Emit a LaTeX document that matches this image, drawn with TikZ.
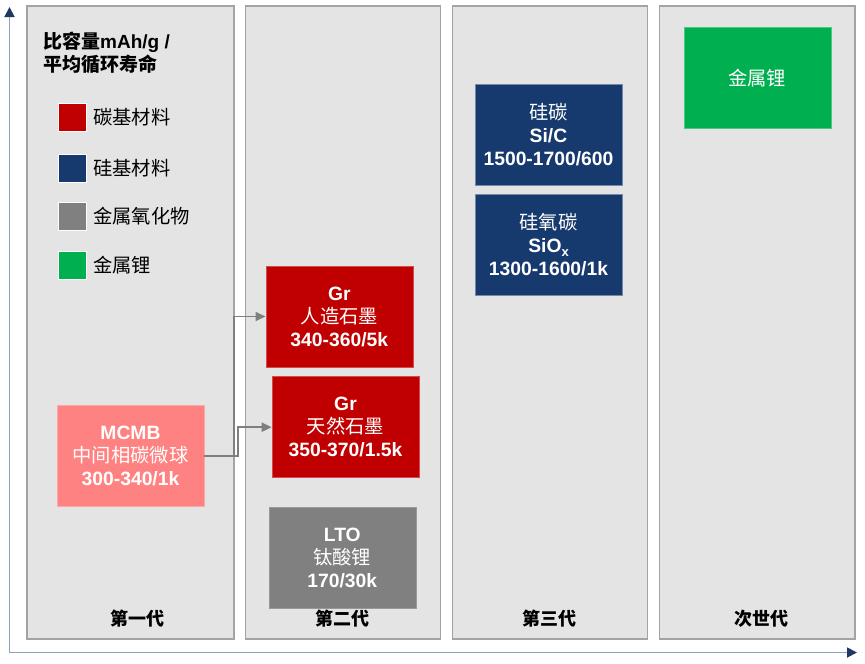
\documentclass[tikz,border=0pt]{standalone}
\usepackage{fontspec}
\setmainfont{Liberation Sans}
\newfontfamily\cjk{Noto Sans CJK SC}
\usetikzlibrary{arrows.meta}
\definecolor{panelfill}{HTML}{E4E4E4}
\definecolor{panelline}{HTML}{A3A3A3}
\definecolor{cred}{HTML}{C00000}
\definecolor{cpink}{HTML}{FF8282}
\definecolor{cblue}{HTML}{173A6E}
\definecolor{cgray}{HTML}{808080}
\definecolor{cgreen}{HTML}{00B050}
\definecolor{axisline}{HTML}{8DA2C0}
\definecolor{axistip}{HTML}{1F3864}
\definecolor{conn}{HTML}{7F7F7F}
\newcommand\myfs{\fontsize{19.3}{23}\selectfont}
\begin{document}
\begin{tikzpicture}[x=1pt,y=-1pt,
  panel/.style={draw=panelline, fill=panelfill, line width=1.5pt, inner sep=0pt},
  matbox/.style={minimum width=147pt, minimum height=101pt, inner sep=0pt, align=center, text=white, font=\myfs, line width=0.6pt},
  legsq/.style={minimum width=28pt, minimum height=28pt, inner sep=0pt, draw=white, line width=0.5pt},
  legtxt/.style={anchor=west, inner sep=0pt, font=\myfs\cjk},
  gen/.style={inner sep=0pt, font=\fontsize{18}{22}\selectfont\cjk\bfseries},
  axis/.style={draw=axisline, line width=1.8pt, -{Triangle[width=10pt,length=10pt,color=axistip]}},
  connector/.style={draw=conn, line width=1.8pt, -{Triangle[width=9pt,length=10pt]}}
]
\useasboundingbox[fill=white] (0,0) rectangle (865,664);

% axes
\coordinate (o) at (9.5,652.5);
\coordinate (ytop) at (9.5,7);
\coordinate (xend) at (857,652.5);
\draw[axis] (o) -- (ytop);
\draw[axis] (o) -- (xend);

% panels
\node[panel, minimum width=207pt, minimum height=633pt] (p1) at (130.5,322.5) {};
\node[panel, minimum width=195pt, minimum height=633pt] (p2) at (343,322.5) {};
\node[panel, minimum width=195pt, minimum height=633pt] (p3) at (550,322.5) {};
\node[panel, minimum width=195.5pt, minimum height=633pt] (p4) at (757.3,322.5) {};

% generation labels
\node[gen] (g1) at (137,619) {第一代};
\node[gen] (g2) at (342.5,619) {第二代};
\node[gen] (g3) at (549.7,619) {第三代};
\node[gen] (g4) at (761,619) {次世代};

% title
\node[anchor=north west, inner sep=0pt, align=left, font=\fontsize{19}{23}\selectfont\bfseries] (title) at (43,32)
  {{\cjk 比容量}mAh/g /\\{\cjk 平均循环寿命}};

% legend
\node[legsq, fill=cred] (l1) at (72.5,117) {};
\node[legsq, fill=cblue] (l2) at (72.5,168) {};
\node[legsq, fill=cgray] (l3) at (72.5,216) {};
\node[legsq, fill=cgreen] (l4) at (72.5,265.5) {};
\node[legtxt] (lt1) at (93,117) {碳基材料};
\node[legtxt] (lt2) at (93,168) {硅基材料};
\node[legtxt] (lt3) at (93,216) {金属氧化物};
\node[legtxt] (lt4) at (93,265.5) {金属锂};

% material boxes
\node[matbox, fill=cpink, draw=cpink!70!white] (mcmb) at (130.5,456)
  {\bfseries MCMB\\{\cjk 中间相碳微球}\\\bfseries 300-340/1k};
\node[matbox, fill=cred, draw=cred!70!white] (gr1) at (339.3,316.5)
  {\bfseries Gr\\{\cjk 人造石墨}\\\bfseries 340-360/5k};
\node[matbox, fill=cred, draw=cred!70!white] (gr2) at (345.5,427.2)
  {\bfseries Gr\\{\cjk 天然石墨}\\\bfseries 350-370/1.5k};
\node[matbox, fill=cgray, draw=cgray!80!white] (lto) at (342.3,557.5)
  {\bfseries LTO\\{\cjk 钛酸锂}\\\bfseries 170/30k};
\node[matbox, fill=cblue, draw=cblue!60!white] (sic) at (548.5,134.5)
  {{\cjk 硅碳}\\\bfseries Si/C\\\bfseries 1500-1700/600};
\node[matbox, fill=cblue, draw=cblue!60!white] (siox) at (548.5,245)
  {{\cjk 硅氧碳}\\\bfseries SiO\raisebox{-0.35ex}{\fontsize{13}{13}\selectfont x}\\\bfseries 1300-1600/1k};
\node[matbox, fill=cgreen, draw=cgreen!70!white] (li) at (757.3,78.2)
  {\cjk 金属锂};

% connectors
\draw[connector] (mcmb.east) -- ++(29.5,0) |- (gr1.west);
\draw[connector] (mcmb.east) -- ++(34,0) |- (gr2.west);
\end{tikzpicture}
\end{document}
